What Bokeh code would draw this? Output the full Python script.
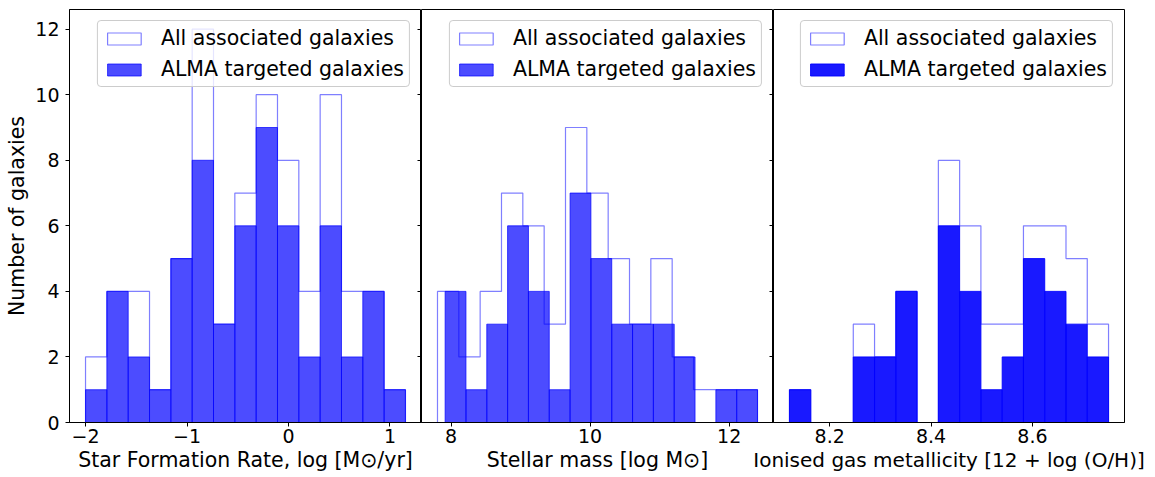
import numpy as np
from bokeh.plotting import figure
from bokeh.models import Range1d, FixedTicker, Legend, LegendItem, AllLabels
from bokeh.layouts import row
from bokeh.embed import file_html
from bokeh.resources import INLINE

# ---------------- data ----------------
# Panel 1: star formation rate
sfr_all_range = (-2.0, 1.153)
sfr_all = [2, 4, 4, 1, 5, 12, 3, 7, 10, 8, 4, 10, 4, 4, 1]
sfr_alma_range = (-2.0, 1.153)
sfr_alma = [1, 4, 2, 1, 5, 8, 3, 6, 9, 6, 2, 6, 2, 4, 1]
sfr_ticks = [-2, -1, 0, 1]
sfr_tick_labels = {-2: "\u22122", -1: "\u22121"}

# Panel 2: stellar mass
mass_all_range = (7.804, 12.408)
mass_all = [4, 2, 4, 7, 6, 3, 9, 7, 5, 3, 5, 2, 1, 1, 1]
mass_alma_range = (7.914, 12.408)
mass_alma = [4, 1, 3, 6, 4, 1, 7, 5, 3, 3, 3, 2, 0, 1, 1]
mass_ticks = [8, 10, 12]

# Panel 3: ionised gas metallicity
met_all_range = (8.1206, 8.7502)
met_all = [1, 0, 0, 3, 2, 4, 0, 8, 6, 3, 3, 6, 6, 5, 3]
met_alma_range = (8.1206, 8.7502)
met_alma = [1, 0, 0, 2, 2, 4, 0, 6, 4, 1, 2, 5, 4, 3, 2]
met_ticks = [8.2, 8.4, 8.6]
met_tick_labels = {8.2: "8.2", 8.4: "8.4", 8.6: "8.6"}

y_ticks = [0, 2, 4, 6, 8, 10, 12]
y_label = "Number of galaxies"
x_labels = ["Star Formation Rate, log [M\u2299/yr]",
            "Stellar mass [log M\u2299]",
            "Ionised gas metallicity [12 + log (O/H)]"]
legend_labels = ["All associated galaxies", "ALMA targeted galaxies"]

FONT = "DejaVu Sans"
TICK_FS = "19px"
LABEL_FS = "20.5px"


def edges(rng, n):
    return np.linspace(rng[0], rng[1], n + 1)


def step_path(e, c):
    xs, ys = [e[0]], [0]
    for i, v in enumerate(c):
        xs += [e[i], e[i + 1]]
        ys += [v, v]
    xs.append(e[-1])
    ys.append(0)
    return xs, ys


def panel(all_rng, all_c, alma_rng, alma_c, ticks, xlabel, alma_alpha, frame_w, xr,
          first=False, border_left=20, border_right=0, overrides=None, xlabel_fs=LABEL_FS):
    p = figure(frame_width=frame_w, frame_height=413, output_backend="svg",
               toolbar_location=None,
               x_range=Range1d(*xr), y_range=Range1d(0, 12.6),
               min_border_left=border_left, min_border_right=border_right,
               min_border_top=9, min_border_bottom=55)
    p.grid.visible = False
    p.outline_line_color = "black"
    p.outline_line_width = 1
    p.outline_line_alpha = 1
    p.background_fill_color = "white"
    p.border_fill_color = None

    ea = edges(all_rng, len(all_c))
    xs, ys = step_path(ea, all_c)
    r_all = p.patch(xs, ys, fill_color=None, line_color="blue", line_alpha=0.5, line_width=1.2)

    eb = edges(alma_rng, len(alma_c))
    r_alma = p.quad(left=eb[:-1], right=eb[1:], bottom=0, top=alma_c,
                    fill_color="blue", fill_alpha=alma_alpha,
                    line_color="blue", line_alpha=alma_alpha, line_width=1)

    xa = p.xaxis[0]
    xa.ticker = FixedTicker(ticks=ticks)
    xa.major_label_policy = AllLabels()
    if overrides:
        xa.major_label_overrides = overrides
    xa.axis_label = xlabel
    ya = p.yaxis[0]
    ya.ticker = FixedTicker(ticks=y_ticks)
    for ax in p.axis:
        ax.axis_label_text_font = FONT
        ax.axis_label_text_font_size = LABEL_FS
        ax.axis_label_text_font_style = "normal"
        ax.axis_label_text_color = "black"
        ax.major_label_text_font = FONT
        ax.major_label_text_font_size = TICK_FS
        ax.major_label_text_color = "black"
        ax.major_tick_out = 4
        ax.major_tick_in = 0
        ax.minor_tick_out = 0
        ax.minor_tick_in = 0
        ax.major_tick_line_color = "black"
        ax.axis_line_color = "black"
        ax.major_label_standoff = 2
        ax.axis_label_standoff = 2
    xa.axis_label_text_font_size = xlabel_fs
    if first:
        ya.major_label_standoff = 6
        ya.axis_label = y_label
        ya.axis_label_standoff = 3
    else:
        # ticks only, pointing out into the neighbouring panel (labels shown by panel 1)
        ya.major_label_overrides = {t: "" for t in y_ticks}
        ya.major_label_standoff = 0
        ya.axis_line_color = None

    leg = Legend(items=[LegendItem(label=legend_labels[0], renderers=[r_all]),
                        LegendItem(label=legend_labels[1], renderers=[r_alma])],
                 location="top_right")
    leg.margin = 11
    leg.padding = 5
    leg.spacing = 7
    leg.glyph_width = 42
    leg.glyph_height = 15
    leg.label_standoff = 16
    leg.label_height = 20
    leg.label_text_font = FONT
    leg.label_text_font_size = LABEL_FS
    leg.label_text_color = "black"
    leg.border_line_color = "#cccccc"
    leg.border_line_alpha = 1
    leg.background_fill_alpha = 0.8
    if "border_radius" in Legend.properties():
        leg.border_radius = 4
    p.add_layout(leg)
    return p


p1 = panel(sfr_all_range, sfr_all, sfr_alma_range, sfr_alma, sfr_ticks,
           x_labels[0], 0.7, 352, (-2.158, 1.311), first=True, border_left=69,
           overrides=sfr_tick_labels)
p2 = panel(mass_all_range, mass_all, mass_alma_range, mass_alma, mass_ticks,
           x_labels[1], 0.7, 352, (7.574, 12.638))
p2.margin = (0, 0, 0, -20)
p3 = panel(met_all_range, met_all, met_alma_range, met_alma, met_ticks,
           x_labels[2], 0.9, 351, (8.0891, 8.7817), border_right=30, xlabel_fs="20px",
           overrides=met_tick_labels)
p3.margin = (0, 0, 0, -20)

layout = row(p1, p2, p3)
open("out.html", "w").write(file_html(layout, INLINE))
